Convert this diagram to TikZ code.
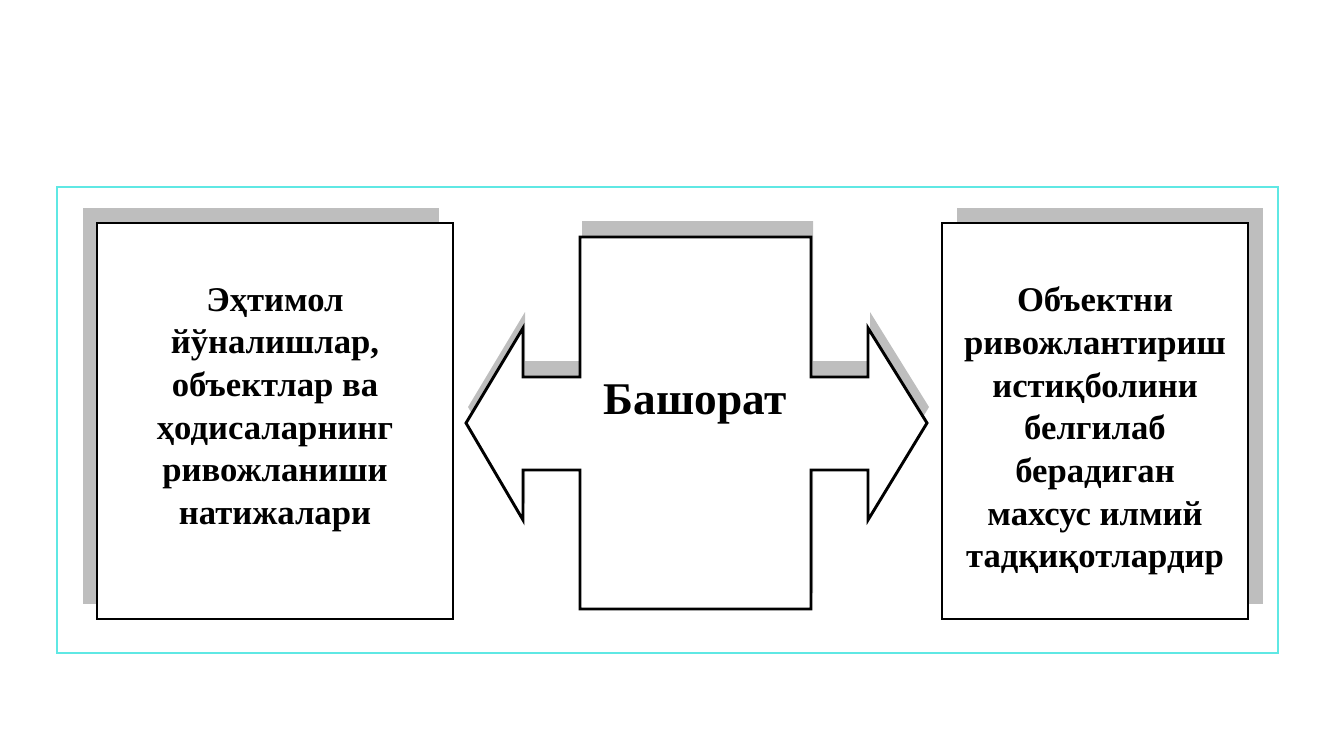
\documentclass[tikz,border=0pt]{standalone}
\usepackage{fontspec}
\setmainfont{Liberation Serif}
\usepackage{tikz}
\usetikzlibrary{positioning,shadows}
\definecolor{framecyan}{RGB}{95,232,228}
\definecolor{shadegray}{RGB}{190,190,190}

\begin{document}
\begin{tikzpicture}[x=0.75pt,y=-0.75pt,
    box/.style={draw,line width=1.4pt,fill=white,inner sep=0pt,minimum height=297pt},
    shadeleft/.style={drop shadow={shadow xshift=-10.5pt,shadow yshift=11.25pt,fill=shadegray,opacity=1}},
    shaderight/.style={drop shadow={shadow xshift=11.25pt,shadow yshift=11.25pt,fill=shadegray,opacity=1}},
    txt/.style={font=\bfseries\fontsize{26}{32}\selectfont,align=center,inner sep=0pt}]
  \useasboundingbox (0,0) rectangle (1333,750);
  \draw[framecyan,line width=0.9pt] (57,187) rectangle (1278,653);
  % side boxes
  \node[box,shadeleft,minimum width=267pt] (prob) at (275,421) {};
  \node[box,shaderight,minimum width=229.5pt] (obj) at (1095,421) {};
  \node[txt] (probtext) at (275,410) {Эҳтимол\\йўналишлар,\\объектлар ва\\ҳодисаларнинг\\ривожланиши\\натижалари};
  \node[txt] (objtext) at (1095,431) {Объектни\\ривожлантириш\\истиқболини\\белгилаб\\берадиган\\махсус илмий\\тадқиқотлардир};
  % centre arrow
  \fill[shadegray,shift={(2,-16)}] (580,237) -- (811,237) -- (811,377) -- (868,377) -- (868,328)
    -- (927,423) -- (868,520) -- (868,470) -- (811,470) -- (811,609) -- (580,609)
    -- (580,470) -- (523,470) -- (523,520) -- (466,423) -- (523,328) -- (523,377)
    -- (580,377) -- cycle;
  \draw[line width=2.2pt,fill=white] (580,237) -- (811,237) -- (811,377) -- (868,377) -- (868,328)
    -- (927,423) -- (868,520) -- (868,470) -- (811,470) -- (811,609) -- (580,609)
    -- (580,470) -- (523,470) -- (523,520) -- (466,423) -- (523,328) -- (523,377)
    -- (580,377) -- cycle;
  \node[font=\bfseries\fontsize{34}{40}\selectfont,inner sep=0pt] (fore) at (695,404) {Башорат};
\end{tikzpicture}
\end{document}
